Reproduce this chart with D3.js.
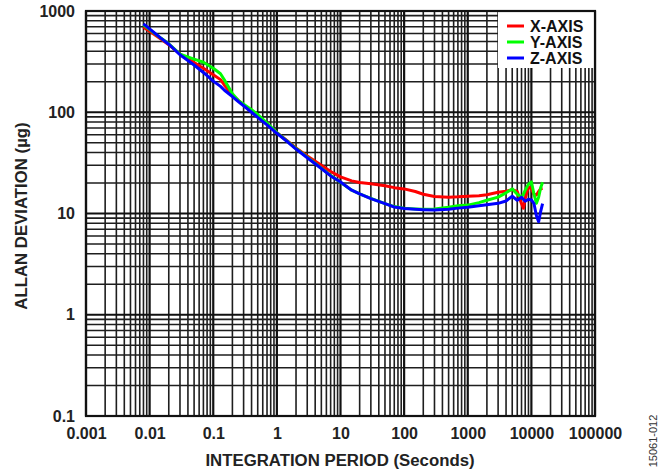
<!DOCTYPE html>
<html>
<head>
<meta charset="utf-8">
<script src="https://cdn.jsdelivr.net/npm/d3@7/dist/d3.min.js"></script>
<style>
  html, body { margin: 0; padding: 0; background: #fff; }
  svg { display: block; font-family: "Liberation Sans", Arial, Helvetica, sans-serif; }
</style>
</head>
<body>
<svg id="chart" width="665" height="473"></svg>
<script>
// ---------- DATA ----------
const tau = [0.008, 0.01, 0.015, 0.02, 0.03, 0.05, 0.07, 0.1, 0.13, 0.15, 0.2, 0.25, 0.3, 0.4, 0.5, 0.7,
  1, 1.5, 2, 3, 5, 7, 10, 15, 20, 30, 50, 70, 100, 150, 200, 300, 500, 700,
  1000, 1500, 2000, 3000, 4000, 5000, 6000, 7000, 7500, 8000, 9000, 10000, 11000, 12000, 13000, 14000, 15000];

const xAxisSeries = [690, 630, 530, 465, 375, 310, 272, 235, 210, 185, 148, 130, 118, 101, 91, 76,
  63, 51.5, 44.5, 37, 30, 26, 23, 21, 20.2, 19.7, 18.8, 18.0, 17.5, 16.5, 15.5, 14.7, 14.5, 14.6,
  14.8, 15.0, 15.3, 16.2, 16.6, 17.2, 16.5, 12.5, 11.3, 14, 18.4, 17.5, 15.5, 15.2, 16.5, 17.5, 17.7];

const yAxisSeries = [730, 655, 540, 475, 375, 335, 312, 272, 240, 208, 152, 130, 120, 106, 95, 78,
  63, 51, 43.8, 36, 28, 23.8, 20.3, 17, 15.6, 14.1, 12.5, 11.7, 11.3, 11.1, 11.0, 11.1, 11.5, 11.9,
  12.1, 12.8, 13.5, 14.5, 16, 17.5, 15.5, 14.5, 15.5, 17, 19.5, 20.5, 15.5, 12.6, 14.5, 18, 20.3];

const zAxisSeries = [745, 665, 540, 470, 370, 293, 247, 203, 180, 165, 143, 127, 116, 100, 89, 75,
  62, 50.5, 43.3, 35.5, 27.8, 23.5, 20.5, 17.0, 15.6, 14.0, 12.5, 11.6, 11.2, 11.0, 10.9, 10.8, 11.0, 11.3,
  11.5, 11.9, 12.2, 12.6, 13.3, 14.8, 13.5, 14.5, 13.8, 13.2, 13.8, 13.6, 12.5, 9.5, 8.3, 10.5, 12.5];

const seriesNames = ["X-AXIS", "Y-AXIS", "Z-AXIS"];
const seriesColors = ["#ff0000", "#00ff00", "#0000ff"];
const xTickLabels = ["0.001", "0.01", "0.1", "1", "10", "100", "1000", "10000", "100000"];
const yTickLabels = ["0.1", "1", "10", "100", "1000"];
const xTitle = "INTEGRATION PERIOD (Seconds)";
const yTitle = "ALLAN DEVIATION (µg)";
const figureId = "15061-012";

// ---------- LAYOUT ----------
const svg = d3.select("#chart");
const L = 86, R = 595, T = 11, B = 416;

const x = d3.scaleLog().domain([0.001, 100000]).range([L, R]);
const y = d3.scaleLog().domain([0.1, 1000]).range([B, T]);

// grid values
const xMinor = [], yMinor = [];
for (let e = -3; e < 5; e++) for (let k = 2; k <= 9; k++) xMinor.push(k * Math.pow(10, e));
for (let e = -1; e < 3; e++) for (let k = 2; k <= 9; k++) yMinor.push(k * Math.pow(10, e));
const xMajor = xTickLabels.map(Number);
const yMajor = yTickLabels.map(Number);

const grid = svg.append("g");
grid.selectAll(".xm").data(xMinor).join("line")
  .attr("x1", d => x(d)).attr("x2", d => x(d)).attr("y1", T).attr("y2", B)
  .attr("stroke", "#1e1e1e").attr("stroke-width", 1.6);
grid.selectAll(".ym").data(yMinor).join("line")
  .attr("y1", d => y(d)).attr("y2", d => y(d)).attr("x1", L).attr("x2", R)
  .attr("stroke", "#1e1e1e").attr("stroke-width", 1.6);
grid.selectAll(".xM").data(xMajor).join("line")
  .attr("x1", d => x(d)).attr("x2", d => x(d)).attr("y1", T).attr("y2", B)
  .attr("stroke", "#111").attr("stroke-width", 2.2);
grid.selectAll(".yM").data(yMajor).join("line")
  .attr("y1", d => y(d)).attr("y2", d => y(d)).attr("x1", L).attr("x2", R)
  .attr("stroke", "#111").attr("stroke-width", 2.2);

// series
const allSeries = [xAxisSeries, yAxisSeries, zAxisSeries];
const line = d3.line().x((d, i) => x(tau[i])).y(d => y(d));
allSeries.forEach((s, i) => {
  svg.append("path").datum(s)
    .attr("d", line)
    .attr("fill", "none")
    .attr("stroke", seriesColors[i])
    .attr("stroke-width", 3)
    .attr("stroke-linejoin", "round");
});

// legend
const lg = svg.append("g");
lg.append("rect").attr("x", 498).attr("y", T).attr("width", R - 498).attr("height", 57).attr("fill", "#fff");
seriesNames.forEach((n, i) => {
  const ly = 26 + i * 16;
  lg.append("line").attr("x1", 507).attr("x2", 524).attr("y1", ly).attr("y2", ly)
    .attr("stroke", seriesColors[i]).attr("stroke-width", 3);
  lg.append("text").attr("x", 530).attr("y", ly).attr("dy", "0.36em")
    .attr("font-size", 16).attr("font-weight", "bold").attr("fill", "#111").text(n);
});

// frame
svg.append("rect").attr("x", L).attr("y", T).attr("width", R - L).attr("height", B - T)
  .attr("fill", "none").attr("stroke", "#111").attr("stroke-width", 2.2);

// axes (labels only)
const xAxis = d3.axisBottom(x).tickValues(xMajor).tickFormat((d, i) => xTickLabels[i]).tickSize(0).tickPadding(12);
const gx = svg.append("g").attr("transform", `translate(0,${B})`).call(xAxis);
gx.select(".domain").remove();
gx.selectAll("text").attr("font-size", 16).attr("font-weight", "bold").attr("fill", "#222")
  .attr("font-family", "'Liberation Sans', Arial, sans-serif");

const yAxis = d3.axisLeft(y).tickValues(yMajor).tickFormat((d, i) => yTickLabels[i]).tickSize(0).tickPadding(11);
const gy = svg.append("g").attr("transform", `translate(${L},0)`).call(yAxis);
gy.select(".domain").remove();
gy.selectAll("text").attr("font-size", 16).attr("font-weight", "bold").attr("fill", "#222")
  .attr("font-family", "'Liberation Sans', Arial, sans-serif");

// titles
svg.append("text").attr("x", (L + R) / 2 - 0.5).attr("y", 466).attr("text-anchor", "middle")
  .attr("font-size", 16.8).attr("font-weight", "bold").attr("fill", "#222").text(xTitle);
svg.append("text").attr("transform", `translate(27,216) rotate(-90)`).attr("text-anchor", "middle")
  .attr("font-size", 16.8).attr("font-weight", "bold").attr("fill", "#222").text(yTitle);
svg.append("text").attr("transform", `translate(657,441) rotate(-90)`).attr("text-anchor", "middle")
  .attr("font-size", 11).attr("fill", "#333").text(figureId);
</script>
</body>
</html>
